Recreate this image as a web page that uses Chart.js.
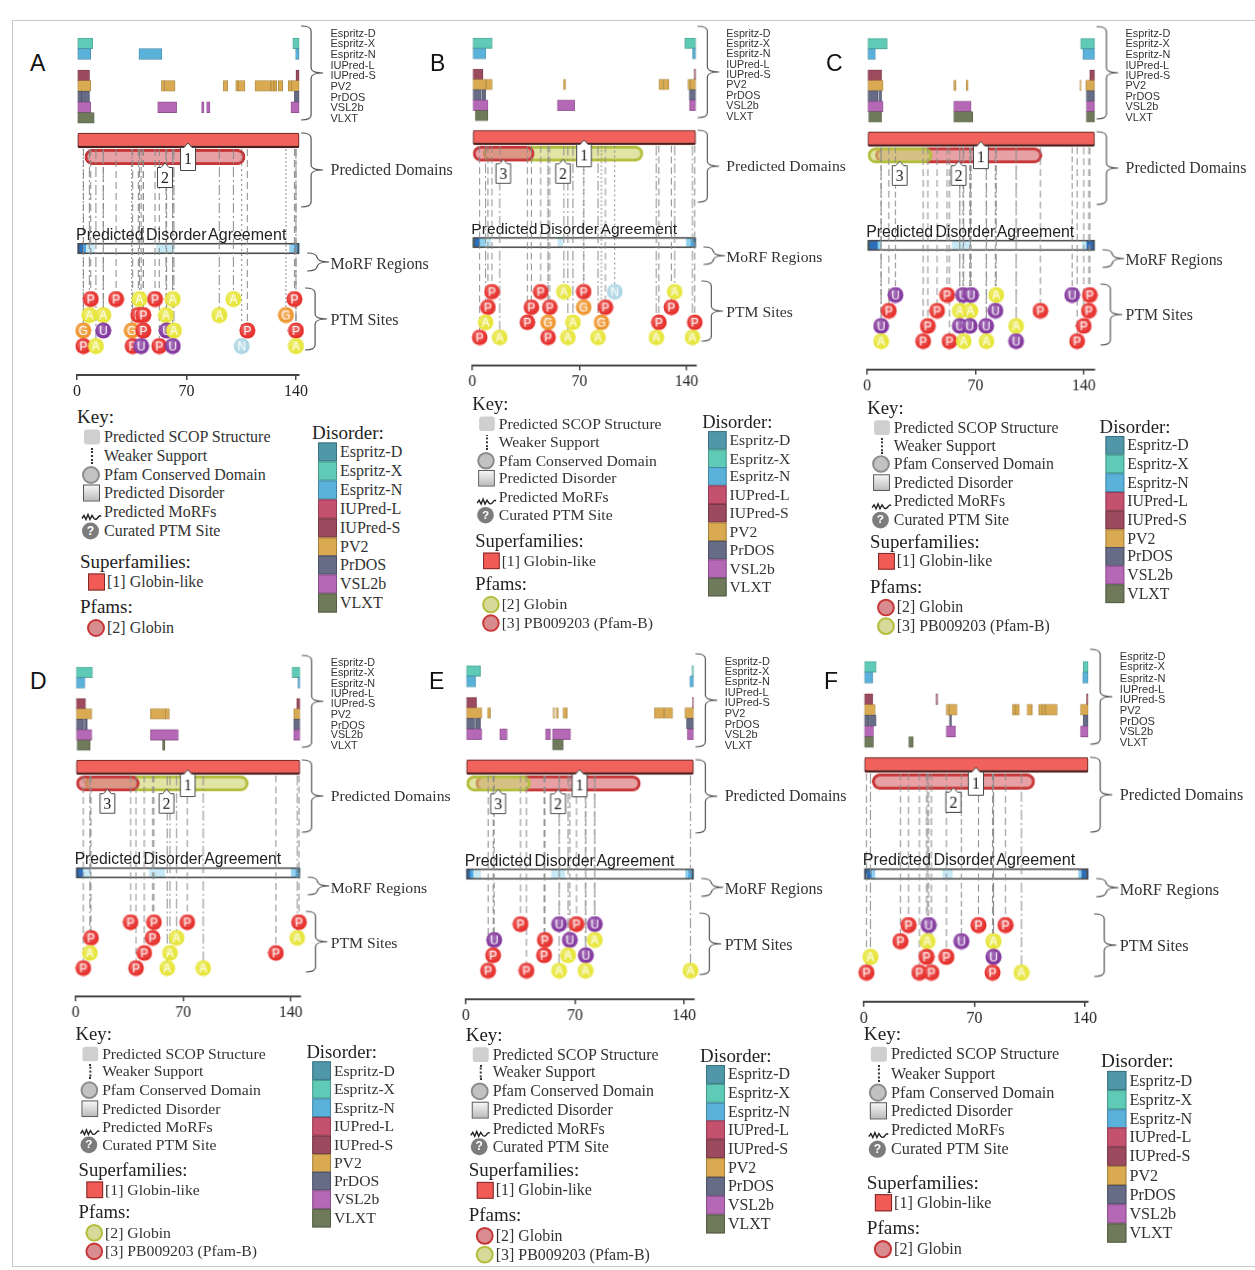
<!DOCTYPE html>
<html lang="en">
<head>
<meta charset="UTF-8">
<title>Globin disorder panels</title>
<script src="https://cdn.jsdelivr.net/npm/chart.js"></script>
<style>
  body { margin: 0; background: #fff; }
  #page { position: relative; width: 1255px; height: 1270px; overflow: hidden; background: #fff; }
  #frame { position: absolute; left: 12px; top: 20px; width: 1260px; height: 1245px;
           border-left: 1px solid #c8c8c8; border-top: 1px solid #c8c8c8; border-bottom: 1px solid #c8c8c8; }
  .panel { position: absolute; transform-origin: 0 0; width: 470px; height: 660px; }
  .panel canvas { position: absolute; left: 0; top: 0; }
  .t { position: absolute; white-space: nowrap; transform: translateY(-50%); line-height: 1.15; color: #222; }
  .trk { font: 11px "Liberation Sans", Arial, sans-serif; color: #333; }
  .brace { font: 16px "Liberation Serif", serif; color: #333; }
  .agree { font: 16px "Liberation Sans", Arial, sans-serif; color: #222; word-spacing: -2px; }
  .head { font: 19px "Liberation Serif", serif; color: #222; }
  .item { font: 16px "Liberation Serif", serif; color: #333; }
  .letter { position: absolute; font: 23px "Liberation Sans", Arial, sans-serif; color: #111; transform: translateY(-50%); }
  .sw { position: absolute; box-sizing: border-box; transform: translateY(-50%); }
</style>
</head>
<body>
<div id="page"><div id="frame"></div></div>

<script>
// ---- shared lists ----
const TRACKS = ['Espritz-D', 'Espritz-X', 'Espritz-N', 'IUPred-L', 'IUPred-S', 'PV2', 'PrDOS', 'VSL2b', 'VLXT'];
const TRACK_COLORS = ['#4f97a9', '#5fcab6', '#5ab2da', '#c4516d', '#9b4b5d', '#d9aa52', '#676c86', '#b568b6', '#6f7a5b'];
const AXIS_TICKS = [0, 70, 140];
const KEY_ITEMS = ['Predicted SCOP Structure', 'Weaker Support', 'Pfam Conserved Domain', 'Predicted Disorder', 'Predicted MoRFs', 'Curated PTM Site'];
const DOMAIN_NAMES = {1: 'Globin-like', 2: 'Globin', 3: 'PB009203 (Pfam-B)'};
const PTM_COLORS = {P: '#e5231f', A: '#e6e42b', G: '#ee8e1f', U: '#7b2b97', N: '#a8d3e2'};
const PTM_DASH = {P: [7, 4], A: [10, 3, 2, 3], G: [2, 2], U: [6, 3], N: [2, 3]};
const AGREE_COLORS = ['#ffffff', '#c6e9f5', '#8fd0ee', '#4aa6e0', '#2e6db8', '#2f7a5e'];

// ---- panel A ----
const A_LENGTH = 142;
const A_DISORDER = [[1,0,10],[1,138,142],[2,0,8.8],[2,39.6,54.2],[2,139.8,142],[4,0,8],[4,140,142],
  [5,0,8.8],[5,54,56],[5,56,62.7],[5,93.6,96.3],[5,101.5,103],[5,103,107.4],[5,113.8,124],[5,124,126],[5,126,127.7],[5,128.7,131.5],[5,135,137],[5,137,142],
  [6,0,3],[6,3,8],[6,139,142],[7,0,8.8],[7,51.6,63.7],[7,79.7,81.2],[7,82.9,85],[7,136.8,142],[8,0,11]];
const A_PFAMS = [[2,5,107.5]];
const A_AGREE = [[0,4,4],[4,6,3],[6,11,1],[51,62,1],[136,139,2],[139,142,3]];
const A_PTM = [[8.8,0,'P'],[25,0,'P'],[39.9,0,'A'],[49.9,0,'P'],[61.2,0,'A'],[100,0,'A'],[139,0,'P'],
  [7.9,1,'A'],[16.8,1,'A'],[39.2,1,'P'],[42.4,1,'P'],[56.9,1,'A'],[91,1,'A'],[133.6,1,'G'],
  [4,2,'G'],[16.8,2,'U'],[35,2,'G'],[42.4,2,'P'],[57.3,2,'U'],[62,2,'A'],[108.9,2,'P'],[140,2,'P'],
  [4.1,3,'P'],[12.1,3,'A'],[35.6,3,'P'],[41,3,'U'],[52.6,3,'P'],[61.2,3,'U'],[105.3,3,'N'],[140,3,'A']];

// ---- panel B ----
const B_LENGTH = 146;
const B_DISORDER = [[1,0,13],[1,139,146],[2,0,8.7],[2,144,146],[4,0,7],[4,145,146],
  [5,0,9],[5,9,13],[5,59.7,61],[5,122,125],[5,125,128.5],[5,141,142.5],[5,142.5,146],
  [6,0,6],[6,6.5,8.7],[6,141.8,146],[7,0,10.2],[7,55.6,66.9],[7,142,146],[8,2,10.2]];
const B_PFAMS = [[2,7,111.6],[3,0,40.5]];
const B_AGREE = [[0,1,5],[1,5,4],[5,9,2],[9,12,1],[56,59,1],[140,143,2],[143,146,3]];
const B_PTM = [[12.8,0,'P'],[44.7,0,'P'],[59.9,0,'A'],[72.8,0,'P'],[93.1,0,'N'],[132.3,0,'A'],
  [10.2,1,'P'],[38.6,1,'P'],[50.6,1,'P'],[72.8,1,'G'],[87,1,'P'],[130.1,1,'P'],
  [8.7,2,'A'],[36,2,'P'],[49.5,2,'G'],[65.8,2,'A'],[84.4,2,'G'],[122,2,'P'],[145.4,2,'P'],
  [4.8,3,'P'],[17.9,3,'A'],[49.5,3,'P'],[62.5,3,'A'],[82.2,3,'A'],[120.3,3,'A'],[143.9,3,'A']];

// ---- panel C ----
const C_LENGTH = 147;
const C_DISORDER = [[1,0,13],[1,138,147],[2,0,5.3],[2,139.4,147],[4,0,9.3],[4,143.9,147],
  [5,0,10.3],[5,56,57.3],[5,64,65.3],[5,137.4,138.3],[5,141.3,147],
  [6,0,7],[6,7.5,9.3],[6,141.7,147],[7,0,10.3],[7,56,67.2],[7,141.7,147],[8,1,9.3],[8,56,68.3],[8,141.7,147]];
const C_PFAMS = [[2,5.3,113],[3,0,42]];
const C_AGREE = [[0,1.5,5],[1.5,7,4],[7,9,2],[55,67,1],[139,142,1],[142,147,4]];
const C_PTM = [[18.3,0,'U'],[51.7,0,'P'],[62,0,'U'],[67.2,0,'U'],[83.4,0,'A'],[132.5,0,'U'],[143.9,0,'P'],
  [14,1,'P'],[45.2,1,'P'],[59.9,1,'A'],[66.8,1,'A'],[82.9,1,'U'],[112,1,'P'],[143.3,1,'P'],
  [9,2,'U'],[39.2,2,'P'],[59.9,2,'U'],[66.3,2,'U'],[76.9,2,'U'],[96.3,2,'A'],[140,2,'P'],
  [9,3,'A'],[36.2,3,'P'],[53.2,3,'P'],[62.4,3,'A'],[77.1,3,'A'],[96.3,3,'U'],[135.7,3,'P']];

// ---- panel D ----
const D_LENGTH = 146;
const D_DISORDER = [[1,0,11],[1,141,146],[2,0,6],[2,144.8,146],[4,0,6.5],[4,144,146],
  [5,0,10.5],[5,48.8,58.5],[5,58.5,61],[5,142,146],[6,0,5],[6,5.5,7.5],[6,142,146],
  [7,0,10.5],[7,48.8,66.8],[7,142,146],[8,1,9.4],[8,56.6,58.1]];
const D_PFAMS = [[2,6,112.4],[3,0,41.4]];
const D_AGREE = [[0,5,4],[5,10,1],[48,58,1],[140.5,143.5,2],[143.5,146,3]];
const D_PTM = [[35.8,0,'P'],[51,0,'P'],[72.7,0,'P'],[145.4,0,'P'],
  [10,1,'P'],[50.1,1,'P'],[65.7,1,'A'],[144.3,1,'A'],
  [9.3,2,'A'],[44.7,2,'P'],[61.4,2,'A'],[130.4,2,'P'],
  [5,3,'P'],[39.3,3,'P'],[59.6,3,'A'],[83.1,3,'A']];

// ---- panel E ----
const E_LENGTH = 146;
const E_DISORDER = [[1,0,9.4],[1,145,146],[2,0,6.3],[2,143.7,146],[4,0,6.9],[4,145.4,146],
  [5,0,10.3],[5,13.9,15.8],[5,56,57],[5,58,59.2],[5,62.4,65],[5,121,127.2],[5,127.5,132.6],[5,140.5,146],
  [6,0,6],[6,6.5,9.4],[6,141.6,146],[7,0,10.3],[7,21.8,26.5],[7,51.1,54.3],[7,55.6,67.2],[7,142.2,146],[8,55.6,62.4]];
const E_PFAMS = [[2,6.4,112],[3,0,41.5]];
const E_AGREE = [[0,3,4],[3,5,3],[5,9.5,1],[55,63.5,1],[141,143,2],[143,146,3]];
const E_PTM = [[35.1,0,'P'],[59.9,0,'U'],[71,0,'P'],[82.7,0,'U'],
  [18.2,1,'U'],[50.7,1,'P'],[66.7,1,'U'],[82.7,1,'A'],
  [17.5,2,'P'],[50.2,2,'P'],[65.6,2,'A'],[77,2,'U'],
  [14.3,3,'P'],[38.9,3,'P'],[59.9,3,'A'],[76.8,3,'A'],[144.1,3,'A']];

// ---- panel F ----
const F_LENGTH = 142;
const F_DISORDER = [[1,0,7.8],[1,139,142],[2,0,5.7],[2,138.6,142],[4,0,5.7],[4,45.8,46.8],[4,141,142],
  [5,0,7.2],[5,52.2,54],[5,54,59],[5,94,96],[5,96,98.5],[5,103.4,106.6],[5,110.8,113],[5,113,115],[5,115,122.4],[5,137.2,142],
  [6,0,3],[6,3.5,7.8],[6,54.2,55.5],[6,139,142],[7,0,6.1],[7,52.2,58],[7,137.2,142],[8,0,6.1],[8,28.5,31.3]];
const F_PFAMS = [[2,5.3,108.2]];
const F_AGREE = [[0,5,4],[5,7,2],[50,56,1],[136,138,2],[138,142,4]];
const F_PTM = [[28.3,0,'P'],[41,0,'U'],[72.6,0,'P'],[89.7,0,'P'],
  [23.2,1,'P'],[40.3,1,'A'],[61.8,1,'U'],[82.1,1,'A'],
  [4.2,2,'A'],[39.7,2,'P'],[52.3,2,'P'],[82.1,2,'U'],
  [1.7,3,'P'],[35.2,3,'P'],[42.8,3,'P'],[81.5,3,'P'],[99.8,3,'A']];

// ---- base layout (panel A pixels), other panels are scaled copies ----
const X0 = 77, K = 1.564;
const TRACK_Y0 = 32.7, TRACK_DY = 10.65;
const SF_Y = 140.5, PF_Y = 157, AGREE_Y = 248.5, AXIS_Y = 375, LINE_TOP = 149;
const PTM_ROW_Y = [299, 315, 330.5, 346];
const PFAM_STYLE = {
  red:   {fill: 'rgba(216,104,110,0.62)', border: '#c73636', key: '#d98c90'},
  green: {fill: 'rgba(205,212,110,0.62)', border: '#b3bd3b', key: '#d5da98'}
};

const PANELS = [
  {name: 'A', len: A_LENGTH, dis: A_DISORDER, pfams: A_PFAMS, agree: A_AGREE, ptm: A_PTM, pfamColor: {2: 'red'},
   ox: 0, oy: 0, sx: 1, sy: 1, keyY: 417, supY: 562, pfamY: 607, disY: 433, lx: 30, ly: 63},
  {name: 'B', len: B_LENGTH, dis: B_DISORDER, pfams: B_PFAMS, agree: B_AGREE, ptm: B_PTM, pfamColor: {2: 'green', 3: 'red'},
   ox: 397.4, oy: 0.5, sx: 0.978, sy: 0.972, keyY: 415, supY: 556, pfamY: 600, disY: 432.6, lx: 430, ly: 63},
  {name: 'C', len: C_LENGTH, dis: C_DISORDER, pfams: C_PFAMS, agree: C_AGREE, ptm: C_PTM, pfamColor: {2: 'red', 3: 'green'},
   ox: 790.5, oy: 1.2, sx: 0.989, sy: 0.983, keyY: 413.8, supY: 550, pfamY: 596, disY: 433, lx: 826, ly: 63},
  {name: 'D', len: D_LENGTH, dis: D_DISORDER, pfams: D_PFAMS, agree: D_AGREE, ptm: D_PTM, pfamColor: {2: 'green', 3: 'red'},
   ox: 0.1, oy: 629.8, sx: 0.982, sy: 0.977, keyY: 413.7, supY: 553, pfamY: 596.3, disY: 432, lx: 30, ly: 681},
  {name: 'E', len: E_LENGTH, dis: E_DISORDER, pfams: E_PFAMS, agree: E_AGREE, ptm: E_PTM, pfamColor: {2: 'red', 3: 'green'},
   ox: 389.2, oy: 627.6, sx: 0.997, sy: 0.99, keyY: 410.5, supY: 548, pfamY: 593.3, disY: 431.7, lx: 429, ly: 681},
  {name: 'F', len: F_LENGTH, dis: F_DISORDER, pfams: F_PFAMS, agree: F_AGREE, ptm: F_PTM, pfamColor: {2: 'red'},
   ox: 785.5, oy: 623, sx: 1.01, sy: 1.01, keyY: 407, supY: 553.5, pfamY: 599, disY: 433.7, lx: 824, ly: 681}
];

function shade(hex, f) {
  const n = parseInt(hex.slice(1), 16);
  return 'rgb(' + Math.round(((n >> 16) & 255) * f) + ',' + Math.round(((n >> 8) & 255) * f) + ',' + Math.round((n & 255) * f) + ')';
}

// circle-with-letter markers used as point styles
const MARKERS = {};
Object.keys(PTM_COLORS).forEach(function (t) {
  const c = document.createElement('canvas');
  c.width = 17; c.height = 17;
  const g = c.getContext('2d');
  const grad = g.createRadialGradient(6, 5.5, 1, 8.5, 8.5, 8.5);
  grad.addColorStop(0, 'rgba(255,255,255,0.35)');
  grad.addColorStop(1, 'rgba(255,255,255,0)');
  g.fillStyle = PTM_COLORS[t];
  g.beginPath(); g.arc(8.5, 8.5, 8, 0, Math.PI * 2); g.fill();
  g.fillStyle = grad; g.fill();
  g.fillStyle = '#fff';
  g.font = '12px "Liberation Sans", Arial, sans-serif';
  g.textAlign = 'center'; g.textBaseline = 'middle';
  g.fillText(t, 8.5, 9.2);
  MARKERS[t] = c;
});

function drawBrace(ctx, x, top, bottom) {
  const mid = (top + bottom) / 2, w = 10, tip = 22, r = 5;
  ctx.beginPath();
  ctx.moveTo(x, top);
  ctx.quadraticCurveTo(x + w, top, x + w, top + r);
  ctx.lineTo(x + w, mid - r);
  ctx.quadraticCurveTo(x + w, mid, x + tip, mid);
  ctx.quadraticCurveTo(x + w, mid, x + w, mid + r);
  ctx.lineTo(x + w, bottom - r);
  ctx.quadraticCurveTo(x + w, bottom, x, bottom);
  ctx.stroke();
}

// braces to the right of the plot and numbered domain tags
const panelDecor = {
  id: 'panelDecor',
  afterDatasetsDraw(chart, args, opts) {
    const ctx = chart.ctx, xs = chart.scales.x, ys = chart.scales.y;
    ctx.save();
    opts.tags.forEach(function (tag) {
      const x = xs.getPixelForValue(tag.at), tipY = ys.getPixelForValue(tag.tip);
      const top = tipY + 4.5, bot = top + tag.h, hw = 7.5;
      ctx.beginPath();
      ctx.moveTo(x, tipY); ctx.lineTo(x + 4, top); ctx.lineTo(x + hw, top); ctx.lineTo(x + hw, bot);
      ctx.lineTo(x - hw, bot); ctx.lineTo(x - hw, top); ctx.lineTo(x - 4, top); ctx.closePath();
      ctx.fillStyle = '#fff'; ctx.fill();
      ctx.strokeStyle = '#444'; ctx.lineWidth = 1; ctx.stroke();
      ctx.fillStyle = '#222';
      ctx.font = '16px "Liberation Serif", serif';
      ctx.textAlign = 'center'; ctx.textBaseline = 'middle';
      ctx.fillText(String(tag.n), x, (top + bot) / 2 + 1);
    });
    ctx.strokeStyle = '#555'; ctx.lineWidth = 1.2;
    const xr = chart.chartArea.right;
    opts.braces.forEach(function (b) {
      drawBrace(ctx, xr + b[2], ys.getPixelForValue(b[0]), ys.getPixelForValue(b[1]));
    });
    ctx.restore();
  }
};

function bar(extra) {
  return Object.assign({type: 'bar', indexAxis: 'y', stack: 'one', borderSkipped: false, clip: false}, extra);
}

function makeChart(p, canvas) {
  const datasets = [];
  datasets.push(bar({order: 30, barThickness: 11, backgroundColor: '#fff', borderWidth: 0,
    data: [{x: [0, p.len], y: AGREE_Y}]}));
  datasets.push(bar({order: 29, barThickness: 10, borderWidth: 0,
    backgroundColor: p.agree.map(s => AGREE_COLORS[s[2]]),
    data: p.agree.map(s => ({x: [s[0], s[1]], y: AGREE_Y}))}));
  datasets.push(bar({order: 28, barThickness: 11, backgroundColor: 'rgba(0,0,0,0)', borderColor: '#4a4a4a', borderWidth: 1.2,
    data: [{x: [0, p.len], y: AGREE_Y}]}));
  datasets.push(bar({order: 27, barThickness: 10.6, borderWidth: 0.8,
    backgroundColor: p.dis.map(d => TRACK_COLORS[d[0]]),
    borderColor: p.dis.map(d => shade(TRACK_COLORS[d[0]], 0.78)),
    data: p.dis.map(d => ({x: [d[1], d[2]], y: TRACK_Y0 + TRACK_DY * d[0]}))}));
  datasets.push(bar({order: 26, barThickness: 15, backgroundColor: '#f2625c', borderColor: '#4d1e1e',
    borderWidth: {top: 1, left: 1, right: 1, bottom: 2.5}, borderRadius: 2,
    data: [{x: [0, p.len], y: SF_Y}]}));
  datasets.push(bar({order: 25, barThickness: 15.5, borderWidth: 2.5, borderRadius: 8,
    backgroundColor: p.pfams.map(f => PFAM_STYLE[p.pfamColor[f[0]]].fill),
    borderColor: p.pfams.map(f => PFAM_STYLE[p.pfamColor[f[0]]].border),
    data: p.pfams.map(f => ({x: [f[1], f[2]], y: PF_Y}))}));

  // dashed connectors from the domain row down to each PTM site
  Object.keys(PTM_DASH).forEach(function (t) {
    const sites = p.ptm.filter(s => s[2] === t);
    if (!sites.length) return;
    const pts = [];
    sites.forEach(function (s) {
      pts.push({x: s[0], y: LINE_TOP}, {x: s[0], y: PTM_ROW_Y[s[1]]}, {x: s[0], y: null});
    });
    datasets.push({type: 'line', order: 10, clip: false, data: pts, borderColor: '#8a8a8a', borderWidth: 1,
      borderDash: PTM_DASH[t], pointRadius: 0, spanGaps: false, fill: false});
  });

  datasets.push({type: 'scatter', order: 1, clip: false, pointRadius: 8,
    pointStyle: p.ptm.map(s => MARKERS[s[2]]),
    data: p.ptm.map(s => ({x: s[0], y: PTM_ROW_Y[s[1]]}))});

  const tags = [{n: 1, at: p.len / 2, tip: 143, h: 23}].concat(
    p.pfams.map(f => ({n: f[0], at: (f[1] + f[2]) / 2, tip: 163, h: 20})));

  return new Chart(canvas, {
    type: 'bar',
    data: {datasets: datasets},
    plugins: [panelDecor],
    options: {
      responsive: false,
      animation: false,
      events: [],
      layout: {autoPadding: false, padding: {left: X0, right: canvas.width - X0 - K * p.len, top: 0, bottom: 0}},
      scales: {
        x: {
          type: 'linear', min: 0, max: p.len, stacked: false, offset: false,
          position: {y: AXIS_Y},
          afterBuildTicks: s => { s.ticks = AXIS_TICKS.map(v => ({value: v})); },
          grid: {offset: false, drawOnChartArea: false, drawTicks: true, tickLength: 4, color: '#444', lineWidth: 1.5},
          border: {display: true, color: '#444', width: 2},
          ticks: {color: '#222', padding: 3, font: {family: '"Liberation Serif", serif', size: 16}}
        },
        y: {type: 'linear', min: 0, max: canvas.height, reverse: true, display: false,
            offset: false, grid: {offset: false}}
      },
      plugins: {
        legend: {display: false},
        tooltip: {enabled: false},
        panelDecor: {
          tags: tags,
          braces: [[26, 120, 2], [133, 207, 2], [253, 271, 8], [288, 350, 6]]
        }
      }
    }
  });
}

function text(parent, str, x, y, cls) {
  const d = document.createElement('div');
  d.className = 't ' + cls;
  d.textContent = str;
  d.style.left = x + 'px';
  d.style.top = y + 'px';
  parent.appendChild(d);
  return d;
}

function box(parent, x, y, w, h, css) {
  const d = document.createElement('div');
  d.className = 'sw';
  d.style.left = x + 'px'; d.style.top = y + 'px';
  d.style.width = w + 'px'; d.style.height = h + 'px';
  d.style.cssText += css;
  parent.appendChild(d);
  return d;
}

function keySwatch(panel, i, y) {
  if (i === 0) box(panel, 84, y, 16, 15, 'background:#cfcfcf;border-radius:3px;');
  if (i === 1) box(panel, 91, y, 3, 16, 'border-left:2px dotted #333;');
  if (i === 2) box(panel, 82, y, 18, 18, 'background:#c2c2c2;border:2.5px solid #8c8c8c;border-radius:50%;');
  if (i === 3) box(panel, 83, y, 17, 17, 'background:linear-gradient(#f6f6f6,#bcbcbc);border:1.2px solid #555;');
  if (i === 4) {
    const s = box(panel, 81, y, 21, 9, '');
    s.innerHTML = '<svg width="21" height="9"><path d="M1 6 L3 3 L5 7 L7 2 L9 7 L11 3 L13 6 Q15 8 17 5 T20 4" stroke="#222" stroke-width="1.4" fill="none"/></svg>';
  }
  if (i === 5) {
    const s = box(panel, 82, y, 17, 17, 'background:#7c7c7c;border-radius:50%;color:#fff;text-align:center;font:bold 12px/17px "Liberation Sans",Arial,sans-serif;');
    s.textContent = '?';
  }
}

const page = document.getElementById('page');

PANELS.forEach(function (p) {
  const letter = document.createElement('div');
  letter.className = 'letter';
  letter.textContent = p.name;
  letter.style.left = p.lx + 'px';
  letter.style.top = p.ly + 'px';
  page.appendChild(letter);

  const panel = document.createElement('div');
  panel.className = 'panel';
  panel.style.left = p.ox + 'px';
  panel.style.top = p.oy + 'px';
  panel.style.transform = 'scale(' + p.sx + ',' + p.sy + ')';
  page.appendChild(panel);

  const end = X0 + K * p.len;
  const canvas = document.createElement('canvas');
  canvas.width = Math.round(end + 34);
  canvas.height = 400;
  panel.appendChild(canvas);
  makeChart(p, canvas);

  const lx = end + 31.4;
  TRACKS.forEach((name, i) => text(panel, name, lx, TRACK_Y0 + TRACK_DY * i, 'trk'));
  text(panel, 'Predicted Domains', lx, 170, 'brace');
  text(panel, 'MoRF Regions', lx, 264, 'brace');
  text(panel, 'PTM Sites', lx, 320, 'brace');
  text(panel, 'Predicted Disorder Agreement', X0 - 1, 235, 'agree');

  // key
  text(panel, 'Key:', 77, p.keyY, 'head');
  KEY_ITEMS.forEach(function (name, i) {
    const y = p.keyY + 20 + 18.75 * i;
    keySwatch(panel, i, y);
    text(panel, name, 104, y, 'item');
  });
  text(panel, 'Superfamilies:', 80, p.supY, 'head');
  box(panel, 88, p.supY + 20, 17, 17, 'background:#f25a55;border:1.5px solid #7a2a2a;');
  text(panel, '[1] ' + DOMAIN_NAMES[1], 107, p.supY + 20, 'item');
  text(panel, 'Pfams:', 80, p.pfamY, 'head');
  p.pfams.slice().sort((a, b) => a[0] - b[0]).forEach(function (f, i) {
    const y = p.pfamY + 21 + 18.5 * i;
    const st = PFAM_STYLE[p.pfamColor[f[0]]];
    box(panel, 87, y, 18, 18, 'background:' + st.key + ';border:2.5px solid ' + st.border + ';border-radius:50%;');
    text(panel, '[' + f[0] + '] ' + DOMAIN_NAMES[f[0]], 107, y, 'item');
  });

  // disorder legend
  text(panel, 'Disorder:', 312, p.disY, 'head');
  TRACKS.forEach(function (name, i) {
    const y = p.disY + 19 + 18.9 * i;
    box(panel, 318, y, 19, 19, 'background:' + TRACK_COLORS[i] + ';border:1px solid ' + shade(TRACK_COLORS[i], 0.75) + ';');
    text(panel, name, 340, y, 'item');
  });
});
</script>
</body>
</html>
